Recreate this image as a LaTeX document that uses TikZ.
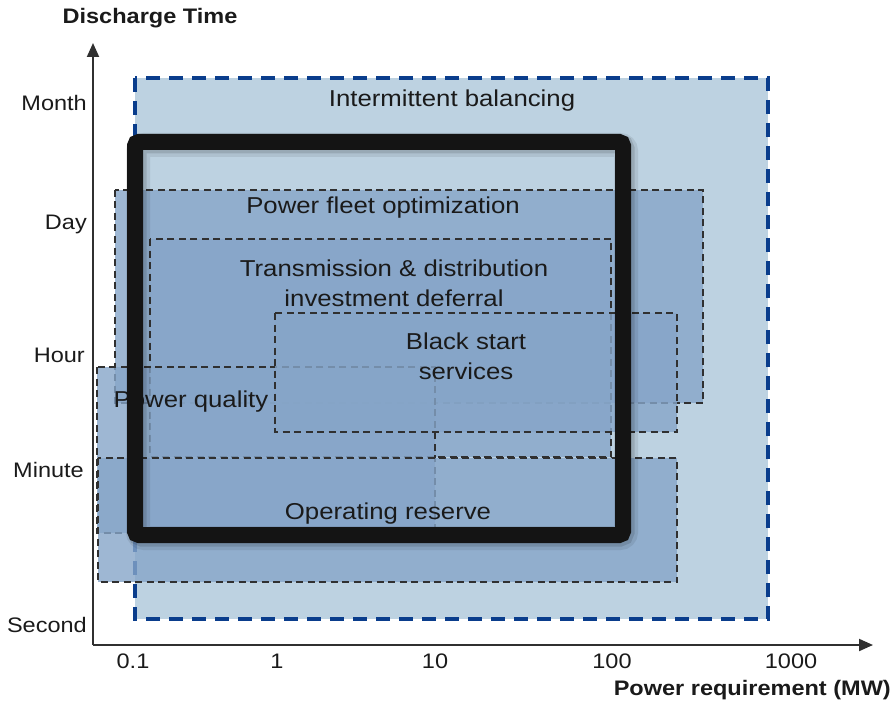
\documentclass[tikz,border=0pt]{standalone}
\usepackage{fontspec}
\setmainfont{Liberation Sans}[FakeStretch=1.12]
\usetikzlibrary{arrows.meta}

\definecolor{ibfill}{HTML}{BDD2E1}
\definecolor{ibline}{HTML}{0A3D8C}
\definecolor{appfill}{HTML}{86A5C8}
\definecolor{edge}{HTML}{303030}
\definecolor{ink}{HTML}{1A1A1A}
\definecolor{frame}{HTML}{141414}

\begin{document}
\begin{tikzpicture}[x=1pt,y=-1pt,
  axislbl/.style={font=\fontsize{21}{25}\selectfont, text=ink, inner sep=0pt},
  axistitle/.style={font=\bfseries\fontsize{21}{25}\selectfont, text=ink, inner sep=0pt},
  boxlbl/.style={font=\fontsize{23}{30}\selectfont, text=ink, align=center, inner sep=0pt},
  widebox/.style={fill=ibfill, draw=ibline, line width=4.5pt, dash pattern=on 14pt off 9pt},
  appbox/.style={fill=appfill, fill opacity=0.8, draw=edge, line width=1.6pt, dash pattern=on 7pt off 4.5pt},
  axisline/.style={draw=edge, line width=2pt},
  tip/.style={-{Triangle[length=14pt,width=12pt]}}]

\useasboundingbox (0,0) rectangle (893,703);

% axes
\coordinate (origin) at (93,645);
\coordinate (ytop) at (93,43);
\coordinate (xend) at (873,645);

% application ranges
\draw[widebox] (135,78) rectangle (768,619);
\draw[appbox] (115,190) rectangle (703,403);
\draw[appbox] (150,239) rectangle (611,457);
\draw[appbox] (97,367) rectangle (435,533);
\draw[appbox] (275,313) rectangle (677,432);
\draw[appbox] (98,458) rectangle (677,582);

\draw[axisline, tip] (origin) -- (ytop);
\draw[axisline, tip] (origin) -- (xend);

% range labels
\node[boxlbl] (ib) at (452,101) {Intermittent balancing};
\node[boxlbl] (pf) at (383,208) {Power fleet optimization};
\node[boxlbl] (td) at (394,283) {Transmission \& distribution\\investment deferral};
\node[boxlbl] (bs) at (466,356) {Black start\\services};
\node[boxlbl] (pq) at (191,402) {Power quality};
\node[boxlbl] (or) at (388,514) {Operating reserve};

% highlighted frame with soft shadow
\draw[black, opacity=0.08, line width=24pt, rounded corners=6pt] (138,145) rectangle (626,538);
\draw[black, opacity=0.12, line width=19pt, rounded corners=5pt] (137,144) rectangle (625,537);
\draw[frame, line width=16pt, rounded corners=4pt] (135,142) rectangle (623,535);

% axis titles
\node[axistitle] (ytitle) at (150,18) {Discharge Time};
\node[axistitle, anchor=east] (xtitle) at (891,690) {Power requirement (MW)};

% time ticks
\node[axislbl, anchor=east] (tmonth) at (87,103) {Month};
\node[axislbl, anchor=east] (tday) at (87,224) {Day};
\node[axislbl, anchor=east] (thour) at (85,355) {Hour};
\node[axislbl, anchor=east] (tmin) at (84,470) {Minute};
\node[axislbl, anchor=east] (tsec) at (87,625) {Second};

% power ticks
\node[axislbl] (p01) at (133,661) {0.1};
\node[axislbl] (p1) at (277,661) {1};
\node[axislbl] (p10) at (435,661) {10};
\node[axislbl] (p100) at (612,661) {100};
\node[axislbl] (p1000) at (791,661) {1000};
\end{tikzpicture}
\end{document}
